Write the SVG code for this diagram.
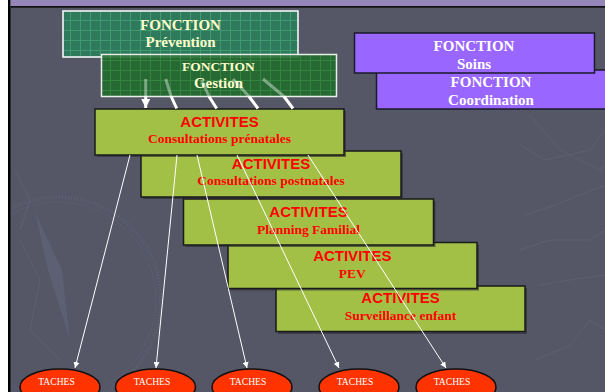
<svg xmlns="http://www.w3.org/2000/svg" width="605" height="392" viewBox="0 0 605 392">
<style>
.fn{font-family:"Liberation Serif","Times New Roman",serif;font-weight:bold;text-anchor:middle}
.fs{font-size:15px}
.fg{font-size:13.5px}
.fg2{font-size:15px}
.cream{fill:#ffffcc}
.wh{fill:#ffffff}
.act{fill:#a3c046;stroke:#1a1a1a;stroke-width:1.5}
.sh{fill:#2a2b33;opacity:0.6}
.at{font-family:"Liberation Sans",Arial,sans-serif;font-weight:bold;font-size:15px;fill:#ff0000;text-anchor:middle}
.as{font-family:"Liberation Serif","Times New Roman",serif;font-weight:bold;font-size:13.5px;fill:#ff0000;text-anchor:middle}
.fct{fill:#9966ff;stroke:#1a1a2a;stroke-width:1.5}
.tache{fill:#ff3300;stroke:#111111;stroke-width:1.5}
.tt{font-family:"Liberation Serif","Times New Roman",serif;font-size:9.6px;fill:#ffffff;text-anchor:middle}
.thin{stroke:#ffffff;stroke-width:1;fill:none}
.thick{stroke:#ffffff;stroke-width:3;fill:none}
.faded{stroke:#ffffff;stroke-width:3;stroke-opacity:0.4;fill:none}
.bgl{stroke:#5e6073;stroke-width:1;fill:none}
</style>
<defs>
<pattern id="gridP" width="10" height="10" patternUnits="userSpaceOnUse">
<rect width="10" height="10" fill="#2f7a5c"/>
<path d="M0 0.5H10M0.5 0V10" stroke="#3f9a70" stroke-width="1"/>
</pattern>
<pattern id="gridG" width="10" height="10" patternUnits="userSpaceOnUse">
<rect width="10" height="10" fill="#1f6b2c"/>
<path d="M0 0.5H10M0.5 0V10" stroke="#2d8a3a" stroke-width="1"/>
</pattern>
<marker id="ah" viewBox="0 0 10 10" refX="10" refY="5" markerWidth="6" markerHeight="6" orient="auto" markerUnits="userSpaceOnUse">
<path d="M0 0L10 5L0 10z" fill="#ffffff"/>
</marker>
<marker id="ahb" viewBox="0 0 10 10" refX="10" refY="5" markerWidth="9" markerHeight="9" orient="auto" markerUnits="userSpaceOnUse">
<path d="M0 0L10 5L0 10z" fill="#ffffff"/>
</marker>
</defs>

<g id="background">
<rect x="0" y="0" width="605" height="392" fill="#555766"/>
<circle cx="58" cy="300" r="103" fill="none" stroke="#5e6073" stroke-width="4" stroke-dasharray="1 2"/>
<circle cx="58" cy="300" r="98" fill="none" stroke="#5b5d70" stroke-width="1"/>
<polygon points="35,212 62,270 70,340 48,270" fill="#5d5f72"/>
<polyline class="bgl" points="530,115 560,150 600,170 605,165"/>
<polyline class="bgl" points="520,145 545,160 590,150 605,130"/>
<polyline class="bgl" points="525,215 555,205 580,195 605,185"/>
<polyline class="bgl" points="520,250 550,240 590,240 605,230"/>
<polyline class="bgl" points="540,285 570,280 605,275"/>
<polyline class="bgl" points="535,360 570,345 590,320 605,330"/>
<polyline class="bgl" points="20,240 40,280 30,330 60,360"/>
<polyline class="bgl" points="15,170 30,200 20,230"/>
<rect x="0" y="0" width="8" height="392" fill="#ffffff"/>
<rect x="8" y="0" width="2.5" height="392" fill="#000000"/>
<rect x="10.5" y="0" width="594.5" height="6" fill="#9585b8"/>
<rect x="10.5" y="6" width="594.5" height="1.7" fill="#111111"/>
</g>

<g id="fonction-prevention">
<rect x="63" y="11" width="235" height="46" fill="url(#gridP)" stroke="#ffffff" stroke-width="1.5"/>
<text class="fn fs cream" x="180.5" y="30">FONCTION</text>
<text class="fn fs cream" x="180.5" y="47">Prévention</text>
</g>

<g id="fonction-gestion">
<rect x="101.5" y="54.5" width="235" height="42" fill="url(#gridG)" fill-opacity="0.88" stroke="#e8efe8" stroke-width="1.5"/>
<text class="fn fg cream" x="218.5" y="71">FONCTION</text>
<text class="fn fg2 cream" x="218.5" y="88">Gestion</text>
</g>

<g id="fonction-coordination">
<rect x="376.5" y="70" width="232" height="39" class="fct"/>
<text class="fn fs wh" x="491" y="86.7">FONCTION</text>
<text class="fn fs wh" x="491" y="105">Coordination</text>
</g>

<g id="fonction-soins">
<rect x="354.5" y="33" width="240" height="40" class="fct"/>
<text class="fn fs wh" x="474" y="50.7">FONCTION</text>
<text class="fn fs wh" x="474" y="69.3">Soins</text>
</g>

<g id="activite-surveillance">
<rect x="278" y="288" width="249" height="46" class="sh"/>
<rect x="276" y="286" width="249" height="45.5" class="act"/>
<text class="at" x="400.5" y="303.3">ACTIVITES</text>
<text class="as" x="400.5" y="320">Surveillance enfant</text>
</g>

<g id="activite-pev">
<rect x="230" y="244.5" width="249" height="46" class="sh"/>
<rect x="228" y="242.5" width="249" height="46" class="act"/>
<text class="at" x="352.3" y="260.7">ACTIVITES</text>
<text class="as" x="352.3" y="277.7">PEV</text>
</g>

<g id="activite-planning">
<rect x="185.5" y="201" width="250" height="46" class="sh"/>
<rect x="183.5" y="199" width="250" height="46" class="act"/>
<text class="at" x="308.5" y="216.7">ACTIVITES</text>
<text class="as" x="308.5" y="234">Planning Familial</text>
</g>

<g id="activite-postnatales">
<rect x="143" y="153" width="260" height="46" class="sh"/>
<rect x="141" y="151" width="260" height="46" class="act"/>
<text class="at" x="271" y="169">ACTIVITES</text>
<text class="as" x="271" y="185">Consultations postnatales</text>
</g>

<g id="activite-prenatales">
<rect x="97" y="111" width="249" height="46" class="sh"/>
<rect x="95" y="109" width="249" height="46" class="act"/>
<text class="at" x="219.5" y="126.7">ACTIVITES</text>
<text class="as" x="219.5" y="142.7">Consultations prénatales</text>
</g>

<g id="taches">
<g id="tache-1"><ellipse cx="60" cy="387" rx="40" ry="18" class="tache"/><text class="tt" x="56.5" y="385">TACHES</text></g>
<g id="tache-2"><ellipse cx="155.5" cy="387" rx="40" ry="18" class="tache"/><text class="tt" x="152" y="385">TACHES</text></g>
<g id="tache-3"><ellipse cx="252" cy="387" rx="40" ry="18" class="tache"/><text class="tt" x="248" y="385">TACHES</text></g>
<g id="tache-4"><ellipse cx="359" cy="387" rx="40" ry="18" class="tache"/><text class="tt" x="355" y="385">TACHES</text></g>
<g id="tache-5"><ellipse cx="456" cy="387" rx="40" ry="18" class="tache" stroke="#ffffff"/><text class="tt" x="452" y="385">TACHES</text></g>
</g>

<g id="connectors">
<line class="faded" x1="145.7" y1="79" x2="145.7" y2="96.5"/>
<line class="thick" x1="145.7" y1="96.5" x2="145.7" y2="108" marker-end="url(#ahb)"/>
<line class="faded" x1="165.7" y1="79" x2="171.2" y2="96.5"/>
<line class="thick" x1="171.2" y1="96.5" x2="176.7" y2="108.5"/>
<line class="faded" x1="201.7" y1="80" x2="209" y2="96.5"/>
<line class="thick" x1="209" y1="96.5" x2="216.7" y2="108.5"/>
<line class="faded" x1="233" y1="79" x2="249" y2="96.5"/>
<line class="thick" x1="249" y1="96.5" x2="258" y2="108.5"/>
<line class="faded" x1="263" y1="79" x2="284" y2="96.5"/>
<line class="thick" x1="284" y1="96.5" x2="293" y2="108.5"/>
<line class="thin" x1="130" y1="155" x2="75" y2="368" marker-end="url(#ah)"/>
<line class="thin" x1="177" y1="155" x2="156" y2="368" marker-end="url(#ah)"/>
<line class="thin" x1="197" y1="155" x2="247" y2="368" marker-end="url(#ah)"/>
<line class="thin" x1="237" y1="155" x2="339" y2="368" marker-end="url(#ah)"/>
<line class="thin" x1="308" y1="155" x2="446" y2="368" marker-end="url(#ah)"/>
</g>
</svg>
